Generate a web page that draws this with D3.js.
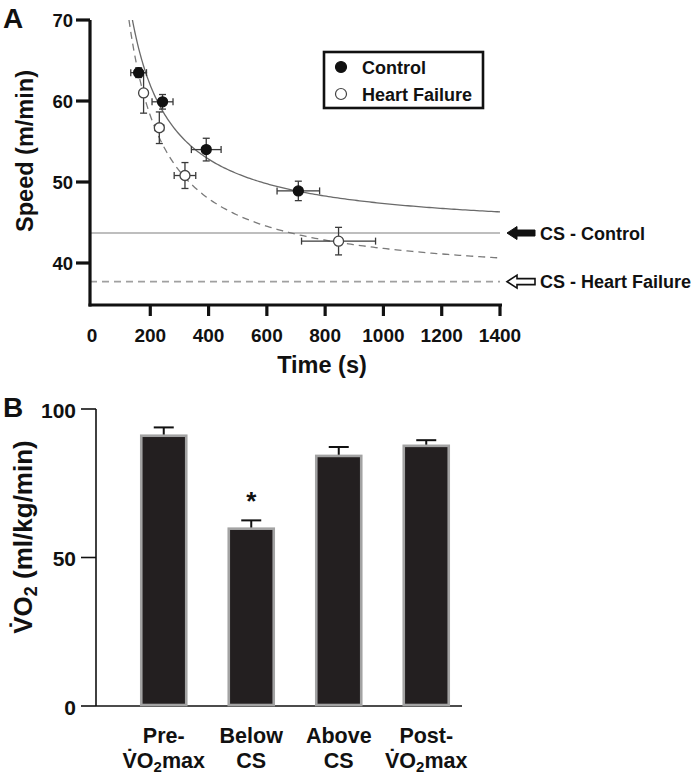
<!DOCTYPE html>
<html><head><meta charset="utf-8">
<script src="https://cdn.jsdelivr.net/npm/d3@7"></script>
<style>
body{margin:0;background:#fff;}
svg{display:block;font-family:"Liberation Sans",Arial,Helvetica,sans-serif;font-weight:bold;}
</style></head>
<body><svg id="c" width="694" height="777"></svg>
<script>
// ---- Panel A data ----
const controlTime = [160, 242, 392, 708];
const controlTimeErr = [27, 36, 51, 73];
const controlSpeed = [63.5, 59.9, 54.0, 48.9];
const controlSpeedErr = [0.6, 0.9, 1.4, 1.2];
const hfTime = [177, 231, 319, 846];
const hfTimeErr = [8, 15, 37, 127];
const hfSpeed = [61.0, 56.7, 50.8, 42.7];
const hfSpeedErr = [2.5, 1.95, 1.6, 1.7];
const csControl = 43.7;
const csHF = 37.7;
const dPrimeControl = 3650;
const dPrimeHF = 4100;
const xTicksA = [0, 200, 400, 600, 800, 1000, 1200, 1400];
const yTicksA = [40, 50, 60, 70];
const legendLabels = ["Control", "Heart Failure"];
const csLabels = ["CS - Control", "CS - Heart Failure"];

// ---- Panel B data ----
const barCats = [["Pre-", "V\u0307O", "2", "max"], ["Below", "CS"], ["Above", "CS"], ["Post-", "V\u0307O", "2", "max"]];
const barValues = [91.0, 59.7, 84.2, 87.6];
const barErr = [2.8, 2.8, 3.0, 1.9];
const yTicksB = [0, 50, 100];

const svg = d3.select("#c");

// ===== Panel A =====
const xA = d3.scaleLinear().domain([0, 1400]).range([92, 500]);
const yA = d3.scaleLinear().domain([40, 70]).range([263, 20]);
const gA = svg.append("g");
const axisBottomY = 305, axisLeftX = 90;

svg.append("text").attr("x", 3).attr("y", 28).attr("font-size", 28).attr("fill", "#111").text("A");

// CS lines
gA.append("line").attr("x1", axisLeftX).attr("x2", 500).attr("y1", yA(csControl)).attr("y2", yA(csControl))
  .attr("stroke", "#a8a8a8").attr("stroke-width", 1.6);
gA.append("line").attr("x1", axisLeftX).attr("x2", 500).attr("y1", yA(csHF)).attr("y2", yA(csHF))
  .attr("stroke", "#a0a0a0").attr("stroke-width", 1.6).attr("stroke-dasharray", "7,5");

// curves
function curvePts(cs, k) {
  const t0 = k / (70 - cs);
  const pts = [];
  for (let i = 0; i <= 200; i++) {
    const t = t0 + (1400 - t0) * Math.pow(i / 200, 1.6);
    pts.push([t, cs + k / t]);
  }
  return pts;
}
const lineA = d3.line().x(d => xA(d[0])).y(d => yA(d[1]));
gA.append("path").attr("d", lineA(curvePts(csControl, dPrimeControl))).attr("fill", "none")
  .attr("stroke", "#6a6a6a").attr("stroke-width", 1.3);
gA.append("path").attr("d", lineA(curvePts(csHF, dPrimeHF))).attr("fill", "none")
  .attr("stroke", "#7a7a7a").attr("stroke-width", 1.3).attr("stroke-dasharray", "7,5");

// error bars & points
function drawSeries(times, tErr, speeds, sErr, filled) {
  const g = gA.append("g").attr("stroke", "#3a3a3a").attr("stroke-width", 1.3);
  times.forEach((t, i) => {
    const cx = xA(t), cy = yA(speeds[i]);
    const x0 = xA(t - tErr[i]), x1 = xA(t + tErr[i]);
    const y0 = yA(speeds[i] + sErr[i]), y1 = yA(speeds[i] - sErr[i]);
    g.append("line").attr("x1", x0).attr("x2", x1).attr("y1", cy).attr("y2", cy);
    g.append("line").attr("x1", x0).attr("x2", x0).attr("y1", cy - 3.5).attr("y2", cy + 3.5);
    g.append("line").attr("x1", x1).attr("x2", x1).attr("y1", cy - 3.5).attr("y2", cy + 3.5);
    g.append("line").attr("x1", cx).attr("x2", cx).attr("y1", y0).attr("y2", y1);
    g.append("line").attr("x1", cx - 3.5).attr("x2", cx + 3.5).attr("y1", y0).attr("y2", y0);
    g.append("line").attr("x1", cx - 3.5).attr("x2", cx + 3.5).attr("y1", y1).attr("y2", y1);
  });
  gA.append("g").selectAll("circle").data(times).join("circle")
    .attr("cx", d => xA(d)).attr("cy", (d, i) => yA(speeds[i])).attr("r", 5)
    .attr("fill", filled ? "#111" : "#fff").attr("stroke", filled ? "#111" : "#444").attr("stroke-width", 1.3);
}
drawSeries(hfTime, hfTimeErr, hfSpeed, hfSpeedErr, false);
drawSeries(controlTime, controlTimeErr, controlSpeed, controlSpeedErr, true);

// axes
gA.append("line").attr("x1", axisLeftX).attr("x2", axisLeftX).attr("y1", yA(70)).attr("y2", axisBottomY + 1.5)
  .attr("stroke", "#111").attr("stroke-width", 3.2);
gA.append("line").attr("x1", axisLeftX - 1.5).attr("x2", 502).attr("y1", axisBottomY).attr("y2", axisBottomY)
  .attr("stroke", "#111").attr("stroke-width", 3.2);
const yAxA = gA.append("g");
yAxA.selectAll("line").data(yTicksA).join("line")
  .attr("x1", axisLeftX - 14).attr("x2", axisLeftX).attr("y1", d => yA(d)).attr("y2", d => yA(d))
  .attr("stroke", "#111").attr("stroke-width", 3.2);
yAxA.selectAll("text").data(yTicksA).join("text")
  .attr("x", axisLeftX - 17).attr("y", d => yA(d) + 6.5).attr("text-anchor", "end").attr("font-size", 18.5)
  .attr("fill", "#111").text(d => d);
const xAxA = gA.append("g");
xAxA.selectAll("line").data(xTicksA.slice(1)).join("line")
  .attr("x1", d => xA(d)).attr("x2", d => xA(d)).attr("y1", axisBottomY).attr("y2", axisBottomY + 11)
  .attr("stroke", "#111").attr("stroke-width", 3.2);
xAxA.selectAll("text").data(xTicksA).join("text")
  .attr("x", d => xA(d)).attr("y", 342).attr("text-anchor", "middle").attr("font-size", 19)
  .attr("fill", "#111").text(d => d);
gA.append("text").attr("x", 322).attr("y", 373).attr("text-anchor", "middle").attr("font-size", 23.5)
  .attr("fill", "#111").text("Time (s)");
gA.append("text").attr("transform", `translate(33,151) rotate(-90)`)
  .attr("text-anchor", "middle").attr("font-size", 23.5).attr("fill", "#111").text("Speed (m/min)");

// legend
const lg = gA.append("g");
lg.append("rect").attr("x", 324).attr("y", 52).attr("width", 159).attr("height", 56)
  .attr("fill", "#fff").attr("stroke", "#111").attr("stroke-width", 2.6);
legendLabels.forEach((l, i) => {
  const cy = 67 + i * 27;
  lg.append("circle").attr("cx", 341).attr("cy", cy).attr("r", 5.5)
    .attr("fill", i === 0 ? "#111" : "#fff").attr("stroke", i === 0 ? "#111" : "#444").attr("stroke-width", 1.2);
  lg.append("text").attr("x", 362).attr("y", cy + 6.5).attr("font-size", 18).attr("fill", "#111").text(l);
});

// CS arrows & labels
const csVals = [csControl, csHF];
csVals.forEach((v, i) => {
  const cy = yA(v);
  const p = `M507,${cy} L517,${cy - 6.5} L517,${cy - 3} L535,${cy - 3} L535,${cy + 3} L517,${cy + 3} L517,${cy + 6.5} Z`;
  svg.append("path").attr("d", p).attr("fill", i === 0 ? "#111" : "#fff").attr("stroke", "#111")
    .attr("stroke-width", i === 0 ? 1 : 1.6).attr("stroke-linejoin", "miter");
  svg.append("text").attr("x", 540).attr("y", cy + 6.5).attr("font-size", 18).attr("fill", "#111").text(csLabels[i]);
});

// ===== Panel B =====
const xB = d3.scaleBand().domain(d3.range(barValues.length)).range([120, 470]).paddingInner(0.486).paddingOuter(0.243);
const yB = d3.scaleLinear().domain([0, 100]).range([706, 409]);
const gB = svg.append("g");
svg.append("text").attr("x", 3).attr("y", 417).attr("font-size", 28).attr("fill", "#111").text("B");

// axes
gB.append("line").attr("x1", 96).attr("x2", 96).attr("y1", yB(100)).attr("y2", yB(0)).attr("stroke", "#111").attr("stroke-width", 1.6);
gB.append("line").attr("x1", 96).attr("x2", 462).attr("y1", yB(0)).attr("y2", yB(0)).attr("stroke", "#111").attr("stroke-width", 1.6);
gB.selectAll(".yt").data(yTicksB).join("line").attr("class", "yt")
  .attr("x1", 81).attr("x2", 96).attr("y1", d => yB(d)).attr("y2", d => yB(d)).attr("stroke", "#111").attr("stroke-width", 1.6);
gB.selectAll(".ytl").data(yTicksB).join("text").attr("class", "ytl")
  .attr("x", 76).attr("y", d => yB(d) + 8.5).attr("text-anchor", "end").attr("font-size", 21).attr("fill", "#111").text(d => d);

// error bars
gB.selectAll(".eb").data(barValues).join("g").attr("class", "eb").each(function (d, i) {
  const g = d3.select(this);
  const cx = xB(i) + xB.bandwidth() / 2;
  g.append("line").attr("x1", cx).attr("x2", cx).attr("y1", yB(d)).attr("y2", yB(d + barErr[i])).attr("stroke", "#111").attr("stroke-width", 2);
  g.append("line").attr("x1", cx - 10).attr("x2", cx + 10).attr("y1", yB(d + barErr[i])).attr("y2", yB(d + barErr[i])).attr("stroke", "#111").attr("stroke-width", 2);
});
// bars
gB.selectAll(".bar").data(barValues).join("rect").attr("class", "bar")
  .attr("x", (d, i) => xB(i)).attr("width", xB.bandwidth())
  .attr("y", d => yB(d)).attr("height", d => yB(0) - yB(d) - 1)
  .attr("fill", "#231f20").attr("stroke", "#a3a3a3").attr("stroke-width", 2.6);

// asterisk
gB.append("text").attr("x", xB(1) + xB.bandwidth() / 2).attr("y", 510).attr("text-anchor", "middle")
  .attr("font-size", 26).attr("fill", "#111").text("*");

// category labels
barCats.forEach((c, i) => {
  const cx = xB(i) + xB.bandwidth() / 2;
  gB.append("text").attr("x", cx).attr("y", 743).attr("text-anchor", "middle").attr("font-size", 21.5).attr("fill", "#111").text(c[0]);
  const t = gB.append("text").attr("x", cx).attr("y", 768).attr("text-anchor", "middle").attr("font-size", 21.5).attr("fill", "#111");
  if (c.length > 2) {
    t.append("tspan").text(c[1]);
    t.append("tspan").attr("font-size", 15).attr("dy", 4).text(c[2]);
    t.append("tspan").attr("dy", -4).text(c[3]);
  } else {
    t.text(c[1]);
  }
});

// y label B
const yl = gB.append("text").attr("transform", `translate(32,537) rotate(-90)`)
  .attr("text-anchor", "middle").attr("font-size", 26).attr("fill", "#111");
yl.append("tspan").text("V\u0307O");
yl.append("tspan").attr("font-size", 18).attr("dy", 5).text("2");
yl.append("tspan").attr("dy", -5).text(" (ml/kg/min)");
</script></body></html>
